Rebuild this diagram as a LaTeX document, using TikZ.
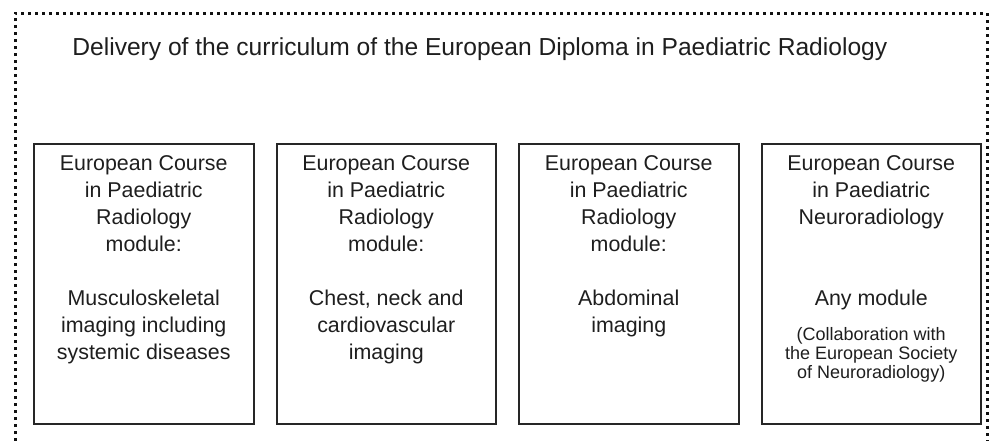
\documentclass[tikz,border=0pt]{standalone}
\usepackage{fontspec}
\setmainfont{Liberation Sans}
\usepackage{xcolor}
\usepackage{tikz}
\usetikzlibrary{positioning}
\definecolor{dpInk}{HTML}{1E1E1E}
\definecolor{dpLine}{HTML}{262626}
\definecolor{dpDots}{HTML}{111111}
\tikzset{
  dp diagram/.style={text=dpInk, x=0.5pt, y=-0.5pt},
  dp frame/.style={draw=dpDots, line width=1.5pt,
    dash pattern=on 1.5pt off 2pt},
  dp box/.style={draw=dpLine, line width=1pt, inner sep=0pt,
    minimum width=109.75pt, minimum height=140pt},
  dp text/.style={font=\fontsize{10.7}{13.5}\selectfont,
    align=center, inner sep=0pt},
  dp note/.style={font=\fontsize{9}{9.5}\selectfont,
    align=center, inner sep=0pt},
  dp title/.style={font=\fontsize{12.3}{14}\selectfont,
    inner sep=0pt, anchor=base west}
}
\begin{document}
\begin{tikzpicture}[dp diagram]
\useasboundingbox (0,0) rectangle (991,440);
% dotted frame, open at the bottom
\draw[dp frame] (15,448) -- (15,13) -- (987,13) -- (987,448);
\node[dp title] (title) at (72,55)
  {Delivery of the curriculum of the European Diploma in Paediatric Radiology};
% the four course boxes
\node[dp box,anchor=north west] (box1) at (33,143) {};
\node[dp box,right=10.5pt of box1] (box2) {};
\node[dp box,right=10.5pt of box2] (box3) {};
\node[dp box,right=10.5pt of box3] (box4) {};
\node[dp text,below=6pt of box1.north] (text1)
  {European Course\\in Paediatric\\Radiology\\module:\\[13.5pt]%
   Musculoskeletal\\imaging including\\systemic diseases};
\node[dp text,below=6pt of box2.north] (text2)
  {European Course\\in Paediatric\\Radiology\\module:\\[13.5pt]%
   Chest, neck and\\cardiovascular\\imaging};
\node[dp text,below=6pt of box3.north] (text3)
  {European Course\\in Paediatric\\Radiology\\module:\\[13.5pt]%
   Abdominal\\imaging};
\node[dp text,below=6pt of box4.north] (text4)
  {European Course\\in Paediatric\\Neuroradiology\\[27pt]Any module};
\node[dp note,below=8.5pt of text4] (note4)
  {(Collaboration with\\the European Society\\of Neuroradiology)};
\end{tikzpicture}
\end{document}
